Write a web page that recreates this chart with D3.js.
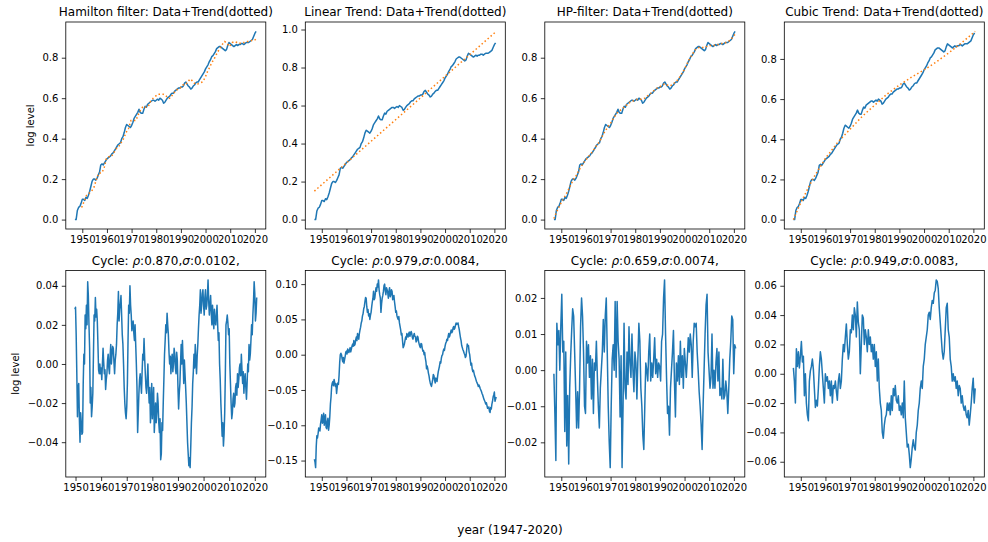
<!DOCTYPE html>
<html>
<head>
<meta charset="utf-8">
<script src="https://cdn.jsdelivr.net/npm/d3@7"></script>
<style>
  body { margin: 0; background: #fff; }
  svg text { font-family: "DejaVu Sans", sans-serif; fill: #000; }
</style>
</head>
<body>
<svg id="fig" width="988" height="542"></svg>
<script>
// ---- Data: log level of the series (half-yearly readings, 1947.0 .. 2020.5) ----
const levelPeriod = [1947.0, 2020.5];
const logLevel = [
  0.000, 0.000, 0.045, 0.060, 0.065, 0.080, 0.100, 0.100, 0.095, 0.110,
  0.105, 0.120, 0.140, 0.165, 0.190, 0.200, 0.200, 0.195, 0.205, 0.220,
  0.235, 0.270, 0.275, 0.270, 0.280, 0.290, 0.300, 0.305, 0.310, 0.315,
  0.325, 0.330, 0.340, 0.350, 0.360, 0.370, 0.375, 0.380, 0.400, 0.410,
  0.430, 0.455, 0.470, 0.465, 0.460, 0.455, 0.465, 0.480, 0.500, 0.510,
  0.520, 0.530, 0.545, 0.530, 0.525, 0.525, 0.545, 0.560, 0.555, 0.570,
  0.575, 0.580, 0.585, 0.590, 0.590, 0.585, 0.590, 0.595, 0.590, 0.600,
  0.595, 0.590, 0.575, 0.580, 0.590, 0.600, 0.605, 0.610, 0.620, 0.625,
  0.625, 0.635, 0.640, 0.645, 0.650, 0.650, 0.655, 0.655, 0.660, 0.675,
  0.680, 0.670, 0.660, 0.655, 0.645, 0.650, 0.660, 0.665, 0.675, 0.680,
  0.680, 0.690, 0.700, 0.710, 0.720, 0.730, 0.745, 0.755, 0.765, 0.780,
  0.790, 0.805, 0.810, 0.820, 0.830, 0.845, 0.850, 0.855, 0.855, 0.850,
  0.845, 0.840, 0.835, 0.840, 0.860, 0.875, 0.870, 0.865, 0.860, 0.855,
  0.860, 0.865, 0.860, 0.865, 0.865, 0.870, 0.870, 0.865, 0.870, 0.875,
  0.875, 0.875, 0.880, 0.885, 0.890, 0.905, 0.920, 0.930
];

// ---- Trends ----
const hamiltonPeriod = [1949.75, 2020.75];
const hamiltonTrend = [
  0.060, 0.090, 0.120, 0.130, 0.140, 0.160, 0.200, 0.230, 0.230, 0.250,
  0.300, 0.310, 0.310, 0.330, 0.350, 0.360, 0.380, 0.400, 0.430, 0.450,
  0.490, 0.490, 0.490, 0.520, 0.545, 0.560, 0.555, 0.560, 0.585, 0.600,
  0.610, 0.620, 0.620, 0.620, 0.615, 0.600, 0.600, 0.620, 0.635, 0.645,
  0.650, 0.665, 0.665, 0.680, 0.695, 0.685, 0.670, 0.670, 0.675, 0.680,
  0.700, 0.730, 0.755, 0.780, 0.800, 0.825, 0.845, 0.865, 0.880, 0.870,
  0.855, 0.875, 0.880, 0.875, 0.870, 0.875, 0.875, 0.880, 0.880, 0.885,
  0.885, 0.895
];
const linearTrend = [[1947.0, 0.150], [2020.75, 0.990]];
const fullPeriod = [1947.0, 2020.75];
const hpTrend = [
  0.005, 0.035, 0.060, 0.085, 0.105, 0.125, 0.150, 0.175, 0.200, 0.215,
  0.240, 0.260, 0.280, 0.295, 0.310, 0.325, 0.340, 0.360, 0.375, 0.395,
  0.420, 0.440, 0.460, 0.475, 0.495, 0.515, 0.530, 0.540, 0.550, 0.560,
  0.570, 0.580, 0.585, 0.590, 0.595, 0.595, 0.595, 0.600, 0.610, 0.620,
  0.630, 0.640, 0.650, 0.655, 0.665, 0.670, 0.665, 0.660, 0.665, 0.675,
  0.685, 0.700, 0.720, 0.740, 0.765, 0.790, 0.810, 0.830, 0.845, 0.850,
  0.850, 0.850, 0.855, 0.860, 0.860, 0.860, 0.865, 0.865, 0.870, 0.870,
  0.875, 0.880, 0.890, 0.905, 0.920
];
const cubicTrend = [
  [1947, 0.000], [1950, 0.085], [1955, 0.205], [1960, 0.305], [1965, 0.385],
  [1970, 0.450], [1975, 0.515], [1980, 0.570], [1985, 0.625], [1990, 0.670],
  [1995, 0.710], [2000, 0.745], [2005, 0.785], [2010, 0.830], [2015, 0.878],
  [2020.75, 0.937]
];

// ---- Cycles (quarterly for Hamilton and linear, denser readings for HP and cubic) ----
const hamiltonCycle = [
  0.028, 0.029, 0.015, -0.005, -0.027, -0.012, -0.010, -0.028, -0.040, -0.025,
  -0.030, -0.036, -0.035, -0.010, 0.005, 0.000, 0.025, 0.018, 0.030, 0.020,
  0.042, 0.035, 0.020, 0.008, -0.020, -0.012, -0.027, -0.022, -0.015, 0.005,
  0.025, 0.022, 0.034, 0.024, 0.028, 0.022, 0.010, -0.003, -0.005, 0.000,
  -0.005, -0.002, -0.008, 0.000, 0.008, 0.001, -0.005, -0.003, -0.013, -0.008,
  -0.005, 0.002, 0.005, -0.002, -0.005, 0.004, 0.010, 0.000, 0.005, 0.009,
  0.008, 0.001, -0.005, 0.002, 0.005, 0.010, 0.020, 0.026, 0.037, 0.022,
  0.028, 0.031, 0.035, 0.025, 0.015, 0.010, 0.000, -0.012, -0.020, -0.025,
  -0.028, -0.022, -0.010, 0.012, 0.030, 0.026, 0.040, 0.030, 0.025, 0.017,
  0.020, 0.022, 0.016, 0.012, 0.020, 0.010, 0.000, -0.012, -0.035, -0.025,
  -0.015, -0.008, -0.005, -0.010, -0.015, -0.004, 0.005, 0.002, 0.013, 0.003,
  -0.005, -0.012, -0.015, -0.008, 0.000, -0.012, -0.020, -0.012, -0.030, -0.022,
  -0.010, -0.028, -0.020, -0.012, -0.035, -0.028, -0.020, -0.030, -0.025, -0.015,
  -0.020, -0.030, -0.035, -0.028, -0.049, -0.046, -0.030, -0.034, -0.020, -0.008,
  0.005, 0.012, 0.020, 0.016, 0.026, 0.020, 0.015, 0.006, 0.000, 0.004,
  -0.005, 0.002, 0.005, -0.004, 0.000, 0.008, 0.005, -0.002, -0.005, 0.006,
  0.002, -0.012, -0.023, -0.015, -0.010, 0.000, 0.010, 0.000, 0.012, 0.002,
  -0.010, 0.002, -0.005, -0.012, -0.020, -0.030, -0.040, -0.046, -0.052, -0.048,
  -0.053, -0.042, -0.030, -0.022, -0.010, -0.004, 0.005, -0.002, 0.010, 0.002,
  -0.005, 0.004, 0.010, 0.018, 0.025, 0.030, 0.038, 0.026, 0.030, 0.036,
  0.038, 0.030, 0.025, 0.034, 0.038, 0.028, 0.030, 0.035, 0.043, 0.032,
  0.025, 0.030, 0.035, 0.026, 0.020, 0.030, 0.023, 0.018, 0.028, 0.022,
  0.020, 0.025, 0.030, 0.020, 0.012, 0.016, 0.000, -0.008, -0.020, -0.028,
  -0.037, -0.030, -0.042, -0.036, -0.025, -0.005, 0.020, 0.022, 0.025, 0.021,
  0.015, 0.018, 0.000, -0.010, -0.020, -0.028, -0.025, -0.018, -0.015, -0.022,
  -0.020, -0.012, -0.010, -0.016, -0.005, -0.012, -0.008, -0.002, 0.000, -0.006,
  0.005, -0.003, -0.010, -0.004, -0.015, -0.008, -0.005, -0.012, -0.018, -0.010,
  0.000, -0.004, 0.010, 0.002, 0.005, 0.012, 0.020, 0.015, 0.025, 0.032,
  0.042, 0.036, 0.022, 0.026, 0.034
];
const linearCycle = [
  -0.148, -0.152, -0.160, -0.130, -0.115, -0.118, -0.112, -0.104, -0.105, -0.108,
  -0.098, -0.092, -0.085, -0.097, -0.095, -0.083, -0.100, -0.092, -0.085, -0.103,
  -0.105, -0.095, -0.090, -0.107, -0.100, -0.088, -0.070, -0.060, -0.045, -0.040,
  -0.038, -0.044, -0.035, -0.040, -0.045, -0.041, -0.055, -0.046, -0.040, -0.042,
  -0.030, -0.012, 0.000, 0.002, 0.000, -0.006, -0.010, -0.004, -0.012, -0.007,
  -0.002, 0.004, 0.005, 0.001, 0.008, 0.005, 0.003, 0.007, 0.010, 0.004,
  0.008, 0.012, 0.015, 0.012, 0.020, 0.013, 0.015, 0.021, 0.025, 0.020,
  0.030, 0.026, 0.022, 0.030, 0.035, 0.039, 0.045, 0.048, 0.055, 0.058,
  0.065, 0.068, 0.075, 0.081, 0.080, 0.068, 0.060, 0.064, 0.055, 0.058,
  0.050, 0.056, 0.060, 0.068, 0.075, 0.080, 0.090, 0.078, 0.080, 0.088,
  0.095, 0.090, 0.100, 0.096, 0.106, 0.092, 0.085, 0.080, 0.060, 0.072,
  0.080, 0.084, 0.090, 0.098, 0.100, 0.090, 0.085, 0.095, 0.092, 0.088,
  0.080, 0.090, 0.095, 0.082, 0.085, 0.092, 0.090, 0.078, 0.080, 0.084,
  0.075, 0.068, 0.060, 0.062, 0.055, 0.052, 0.050, 0.054, 0.045, 0.040,
  0.035, 0.028, 0.030, 0.020, 0.010, 0.012, 0.015, 0.020, 0.025, 0.022,
  0.030, 0.026, 0.025, 0.030, 0.032, 0.026, 0.030, 0.033, 0.030, 0.024,
  0.022, 0.027, 0.030, 0.026, 0.025, 0.018, 0.020, 0.026, 0.025, 0.019,
  0.015, 0.012, 0.010, 0.016, 0.015, 0.009, 0.005, 0.006, 0.000, 0.003,
  -0.005, -0.010, -0.020, -0.016, -0.020, -0.026, -0.030, -0.036, -0.040, -0.043,
  -0.045, -0.040, -0.035, -0.028, -0.030, -0.036, -0.040, -0.033, -0.035, -0.038,
  -0.030, -0.024, -0.020, -0.016, -0.010, -0.012, -0.005, -0.001, 0.000, 0.005,
  0.008, 0.006, 0.012, 0.016, 0.018, 0.022, 0.020, 0.026, 0.030, 0.025,
  0.028, 0.032, 0.035, 0.031, 0.033, 0.038, 0.040, 0.036, 0.038, 0.042,
  0.045, 0.043, 0.044, 0.045, 0.040, 0.036, 0.030, 0.024, 0.020, 0.013,
  0.010, 0.007, 0.005, 0.002, 0.000, -0.004, -0.002, 0.006, 0.015, 0.012,
  0.013, 0.004, 0.000, -0.008, -0.015, -0.012, -0.020, -0.024, -0.022, -0.026,
  -0.030, -0.032, -0.035, -0.038, -0.040, -0.042, -0.045, -0.043, -0.045, -0.048,
  -0.050, -0.052, -0.055, -0.057, -0.060, -0.063, -0.065, -0.067, -0.070, -0.068,
  -0.072, -0.076, -0.075, -0.074, -0.080, -0.082, -0.075, -0.077, -0.070, -0.066,
  -0.060, -0.057, -0.053, -0.066, -0.063, -0.060
];
const hpCycle = [
  -0.001, -0.012, -0.025, 0.013, 0.007, 0.011, 0.000, 0.012, 0.021, 0.005,
  0.008, -0.017, 0.005, -0.021, -0.007, -0.026, -0.005, 0.004, 0.011, 0.017,
  0.015, 0.005, -0.005, -0.016, -0.006, -0.016, -0.005, 0.012, 0.020, 0.015,
  0.005, -0.010, -0.012, 0.008, 0.002, 0.007, -0.002, 0.004, -0.008, 0.003,
  -0.012, 0.002, 0.000, 0.008, -0.002, -0.010, -0.016, -0.005, 0.000, 0.005,
  0.014, 0.005, 0.015, 0.020, 0.005, -0.010, -0.020, -0.027, -0.010, 0.003,
  0.007, 0.000, 0.019, -0.002, 0.019, 0.008, 0.003, -0.013, 0.004, -0.027,
  -0.010, 0.013, -0.005, -0.008, 0.005, -0.004, 0.012, 0.002, -0.002, 0.010,
  0.000, -0.006, 0.005, 0.002, -0.008, 0.003, 0.013, 0.008, -0.005, -0.010,
  -0.018, -0.022, -0.010, 0.002, 0.000, -0.003, 0.005, 0.010, -0.003, 0.002,
  -0.002, 0.003, 0.009, -0.001, 0.003, -0.002, 0.002, 0.001, -0.003, 0.008,
  0.010, 0.020, 0.025, 0.010, -0.002, -0.012, -0.010, -0.018, -0.005, 0.000,
  0.005, 0.011, -0.003, -0.013, 0.002, -0.003, 0.004, -0.004, 0.008, -0.002,
  0.004, -0.005, 0.006, 0.002, -0.002, 0.003, 0.009, 0.005, 0.010, 0.007,
  -0.002, 0.008, 0.013, 0.012, 0.013, 0.005, 0.000, -0.006, -0.010, -0.015,
  -0.022, -0.010, 0.000, 0.010, 0.018, 0.021, 0.005, 0.000, -0.005, -0.002,
  0.010, -0.005, 0.000, -0.005, 0.002, 0.006, -0.003, 0.005, -0.007, -0.005,
  -0.008, 0.003, -0.008, -0.007, -0.003, -0.006, -0.012, -0.005, 0.003, 0.008,
  0.015, 0.014, -0.001, 0.007, 0.006
];
const cubicCycle = [
  0.004, -0.005, -0.020, 0.017, 0.005, 0.015, 0.004, 0.012, 0.022, 0.008,
  0.012, -0.015, 0.000, -0.020, -0.028, -0.032, -0.005, 0.002, 0.005, 0.010,
  0.003, -0.010, -0.023, -0.018, -0.022, -0.010, 0.005, 0.015, 0.010, 0.000,
  -0.010, -0.020, 0.000, -0.005, -0.002, -0.010, -0.005, -0.015, -0.005, -0.020,
  -0.008, -0.010, -0.005, -0.012, -0.018, -0.005, 0.000, -0.010, -0.005, 0.010,
  0.020, 0.015, 0.025, 0.034, 0.020, 0.010, 0.015, 0.030, 0.028, 0.040,
  0.030, 0.045, 0.040, 0.025, 0.049, 0.035, 0.030, 0.000, 0.020, 0.040,
  0.038, 0.020, 0.030, 0.025, 0.015, 0.030, 0.020, 0.025, 0.015, 0.020,
  0.010, 0.020, 0.005, 0.015, -0.005, 0.010, -0.010, -0.020, -0.025, -0.040,
  -0.044, -0.035, -0.030, -0.028, -0.020, -0.025, -0.020, -0.028, -0.015, -0.025,
  -0.010, -0.015, -0.008, -0.018, -0.020, -0.015, -0.025, -0.022, -0.028, -0.020,
  -0.030, -0.005, -0.030, -0.040, -0.050, -0.048, -0.055, -0.064, -0.058, -0.050,
  -0.045, -0.050, -0.052, -0.040, -0.035, -0.025, -0.020, -0.010, -0.005, -0.010,
  0.005, 0.010, 0.020, 0.025, 0.030, 0.040, 0.042, 0.037, 0.045, 0.050,
  0.048, 0.055, 0.057, 0.064, 0.063, 0.058, 0.045, 0.035, 0.025, 0.015,
  0.010, 0.015, 0.030, 0.045, 0.048, 0.030, 0.025, 0.010, 0.005, -0.005,
  0.000, -0.005, -0.002, -0.010, -0.005, -0.015, -0.008, -0.010, -0.020, -0.015,
  -0.022, -0.025, -0.022, -0.028, -0.030, -0.025, -0.035, -0.028, -0.020, -0.010,
  -0.003, -0.020, -0.010
];

// ---- Text and ticks ----
const topTitles = [
  "Hamilton filter: Data+Trend(dotted)",
  "Linear Trend: Data+Trend(dotted)",
  "HP-filter: Data+Trend(dotted)",
  "Cubic Trend: Data+Trend(dotted)"
];
const cycleRho = ["0.870", "0.979", "0.659", "0.949"];
const cycleSigma = ["0.0102", "0.0084", "0.0074", "0.0083"];
const yearTicks = [1950, 1960, 1970, 1980, 1990, 2000, 2010, 2020];
const levelTicks = [0.0, 0.2, 0.4, 0.6, 0.8];
const linearLevelTicks = [0.0, 0.2, 0.4, 0.6, 0.8, 1.0];
const hamiltonCycleTicks = [-0.04, -0.02, 0.00, 0.02, 0.04];
const linearCycleTicks = [-0.15, -0.10, -0.05, 0.00, 0.05, 0.10];
const hpCycleTicks = [-0.02, -0.01, 0.00, 0.01, 0.02];
const cubicCycleTicks = [-0.06, -0.04, -0.02, 0.00, 0.02, 0.04, 0.06];
const yLabel = "log level";
const xLabel = "year (1947-2020)";

// ---- Helpers ----
const spread = (values, period) => values.map((v, i) =>
  [period[0] + (period[1] - period[0]) * i / (values.length - 1), v]);
const padded = ext => { const r = ext[1] - ext[0]; return [ext[0] - 0.05 * r, ext[1] + 0.05 * r]; };

const blue = "#1f77b4", orange = "#ff7f0e";
const colLeft = [65.8, 305.3, 544.8, 784.3];
const panelW = 200;
const rows = [{ top: 22, bottom: 229 }, { top: 270.5, bottom: 477 }];

const levelPts = spread(logLevel, levelPeriod);
const panels = [
  { row: 0, col: 0, title: topTitles[0], data: levelPts, trend: spread(hamiltonTrend, hamiltonPeriod), ticks: levelTicks, fmt: ".1f" },
  { row: 0, col: 1, title: topTitles[1], data: levelPts, trend: linearTrend, ticks: linearLevelTicks, fmt: ".1f" },
  { row: 0, col: 2, title: topTitles[2], data: levelPts, trend: spread(hpTrend, fullPeriod), ticks: levelTicks, fmt: ".1f" },
  { row: 0, col: 3, title: topTitles[3], data: levelPts, trend: cubicTrend, ticks: levelTicks, fmt: ".1f" },
  { row: 1, col: 0, cycle: 0, data: spread(hamiltonCycle, hamiltonPeriod), ticks: hamiltonCycleTicks, fmt: ".2f" },
  { row: 1, col: 1, cycle: 1, data: spread(linearCycle, fullPeriod), ticks: linearCycleTicks, fmt: ".2f" },
  { row: 1, col: 2, cycle: 2, data: spread(hpCycle, fullPeriod), ticks: hpCycleTicks, fmt: ".2f" },
  { row: 1, col: 3, cycle: 3, data: spread(cubicCycle, fullPeriod), ticks: cubicCycleTicks, fmt: ".2f" }
];

const svg = d3.select("#fig");
svg.append("rect").attr("width", 988).attr("height", 542).attr("fill", "#fff");

panels.forEach(p => {
  const left = colLeft[p.col], right = left + panelW;
  const { top, bottom } = rows[p.row];
  const all = p.trend ? p.data.concat(p.trend) : p.data;
  const x = d3.scaleLinear().domain(padded(d3.extent(all, d => d[0]))).range([left, right]);
  const y = d3.scaleLinear().domain(padded(d3.extent(all, d => d[1]))).range([bottom, top]);
  const line = d3.line().x(d => x(d[0])).y(d => y(d[1]));
  const g = svg.append("g");

  g.append("path").attr("d", line(p.data))
    .attr("fill", "none").attr("stroke", blue).attr("stroke-width", 1.5)
    .attr("stroke-linejoin", "round");
  if (p.trend) {
    g.append("path").attr("d", line(p.trend))
      .attr("fill", "none").attr("stroke", orange).attr("stroke-width", 1.5)
      .attr("stroke-dasharray", "1.5,2.475");
  }

  const styleAxis = sel => {
    sel.attr("font-family", "DejaVu Sans").attr("font-size", 10);
    sel.select(".domain").remove();
    sel.selectAll(".tick line").attr("stroke", "#000").attr("stroke-width", 0.8);
    sel.selectAll(".tick text").attr("fill", "#000");
  };
  g.append("g").attr("transform", `translate(0,${bottom})`)
    .call(d3.axisBottom(x).tickValues(yearTicks).tickFormat(d3.format("d")).tickSize(4).tickPadding(3))
    .call(styleAxis);
  g.append("g").attr("transform", `translate(${left},0)`)
    .call(d3.axisLeft(y).tickValues(p.ticks).tickFormat(d3.format(p.fmt)).tickSize(4).tickPadding(3.5))
    .call(styleAxis);

  g.append("rect").attr("x", left).attr("y", top).attr("width", panelW).attr("height", bottom - top)
    .attr("fill", "none").attr("stroke", "#000").attr("stroke-width", 0.8);

  const t = g.append("text").attr("x", (left + right) / 2).attr("y", top - 6)
    .attr("text-anchor", "middle").attr("font-size", 12);
  if (p.title) {
    t.text(p.title);
  } else {
    t.append("tspan").text("Cycle: ");
    t.append("tspan").attr("font-style", "italic").text("\u03c1");
    t.append("tspan").text(":" + cycleRho[p.cycle] + ",");
    t.append("tspan").attr("font-style", "italic").text("\u03c3");
    t.append("tspan").text(":" + cycleSigma[p.cycle] + ",");
  }

  if (p.col === 0) {
    const lx = p.row === 0 ? 34 : 18.5;
    svg.append("text")
      .attr("transform", `translate(${lx},${(top + bottom) / 2}) rotate(-90)`)
      .attr("text-anchor", "middle").attr("font-size", 10).text(yLabel);
  }
});

svg.append("text").attr("x", 510).attr("y", 534).attr("text-anchor", "middle")
  .attr("font-size", 12).text(xLabel);
</script>
</body>
</html>
